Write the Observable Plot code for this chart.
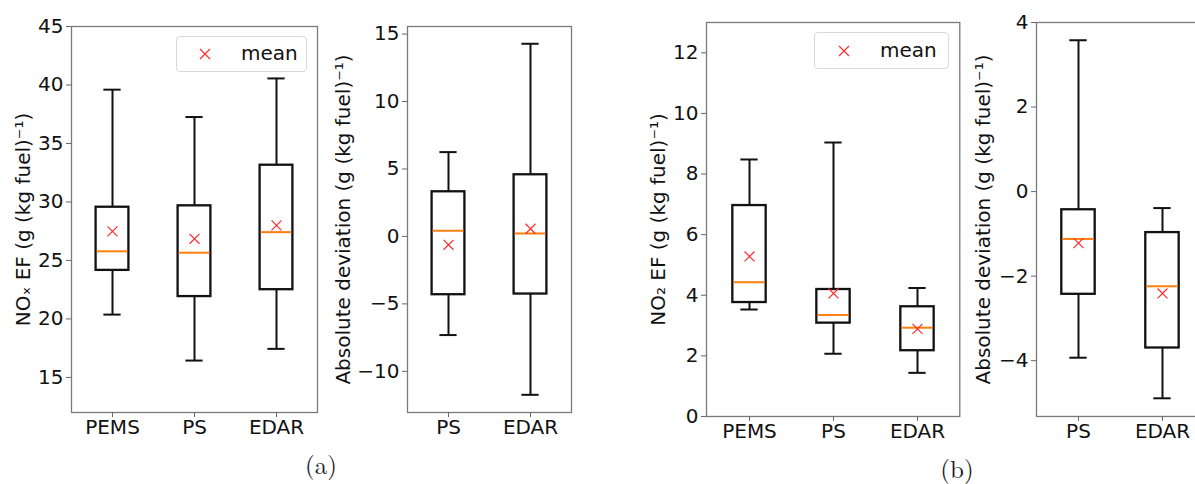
<!DOCTYPE html>
<html><head><meta charset="utf-8">
<script src="https://cdn.jsdelivr.net/npm/d3@7"></script>
<script src="https://cdn.jsdelivr.net/npm/@observablehq/plot@0.6"></script>
<style>
html,body{margin:0;padding:0;background:#fff;overflow:hidden;}
#root{position:relative;width:1195px;height:484px;overflow:hidden;font-family:"DejaVu Sans",sans-serif;background:#fff;}
.panel{position:absolute;top:0;}
.legend{position:absolute;box-sizing:border-box;border:1px solid #d8d8d8;border-radius:4px;background:#fff;font-family:"DejaVu Sans",sans-serif;font-size:20px;color:#111;}
.legend svg{position:absolute;}
.legend span{position:absolute;line-height:20px;}
.cap{position:absolute;font-family:"Latin Modern Roman","DejaVu Serif","Liberation Serif",serif;font-size:25px;color:#1b1b2a;transform:translate(-50%,-50%);white-space:nowrap;line-height:1;}
</style></head><body><div id="root"></div>
<script>
// ---- data ----
const noxCats = ["PEMS", "PS", "EDAR"];
const noxLow  = [20.37, 16.44, 17.44];
const noxQ1   = [24.15, 21.91, 22.50];
const noxMed  = [25.78, 25.66, 27.42];
const noxQ3   = [29.55, 29.67, 33.14];
const noxHigh = [39.60, 37.26, 40.56];
const noxMean = [27.48, 26.85, 28.00];
const noxTicks = [15, 20, 25, 30, 35, 40, 45];

const noxDevCats = ["PS", "EDAR"];
const noxDevLow  = [-7.31, -11.74];
const noxDevQ1   = [-4.32, -4.27];
const noxDevMed  = [0.42, 0.22];
const noxDevQ3   = [3.31, 4.57];
const noxDevHigh = [6.25, 14.28];
const noxDevMean = [-0.62, 0.57];
const noxDevTicks = [-10, -5, 0, 5, 10, 15];

const no2Cats = ["PEMS", "PS", "EDAR"];
const no2Low  = [3.53, 2.07, 1.44];
const no2Q1   = [3.76, 3.08, 2.17];
const no2Med  = [4.43, 3.35, 2.93];
const no2Q3   = [6.96, 4.19, 3.62];
const no2High = [8.48, 9.04, 4.24];
const no2Mean = [5.28, 4.06, 2.89];
const no2Ticks = [0, 2, 4, 6, 8, 10, 12];

const no2DevCats = ["PS", "EDAR"];
const no2DevLow  = [-3.93, -4.89];
const no2DevQ1   = [-2.43, -3.70];
const no2DevMed  = [-1.12, -2.24];
const no2DevQ3   = [-0.43, -0.97];
const no2DevHigh = [3.58, -0.39];
const no2DevMean = [-1.22, -2.41];
const no2DevTicks = [-4, -2, 0, 2, 4];

const labels = {
  nox: "NOₓ EF (g (kg fuel)⁻¹)",
  dev: "Absolute deviation (g (kg fuel)⁻¹)",
  no2: "NO₂ EF (g (kg fuel)⁻¹)"
};
const legendText = "mean";
const captions = ["(a)", "(b)"];

// ---- drawing ----
const FS = 20;
const minus = d => d < 0 ? "\u2212" + Math.abs(d) : String(d);

function boxPanel(o) {
  const rows = o.cats.map((c, i) => ({
    c, lo: o.lo[i], q1: o.q1[i], med: o.med[i], q3: o.q3[i], hi: o.hi[i], mean: o.mean[i]
  }));
  const frameW = o.width - o.mL - o.mR;
  const bw = frameW / o.cats.length;
  const boxInset = bw * (1 - 0.4) / 2;
  const capInset = bw * (1 - 0.21) / 2;
  return Plot.plot({
    width: o.width, height: o.height,
    marginLeft: o.mL, marginRight: o.mR, marginTop: o.mT, marginBottom: o.mB,
    style: {fontFamily: "DejaVu Sans", fontSize: FS + "px", color: "#111", background: "transparent", overflow: "visible"},
    x: {type: "band", domain: o.cats, padding: 0},
    y: {domain: o.domain},
    marks: [
      Plot.frame({stroke: "#7a7a7a", strokeWidth: 1.3}),
      Plot.ruleX(rows, {x: "c", y1: "lo", y2: "q1", stroke: "#111", strokeWidth: 2}),
      Plot.ruleX(rows, {x: "c", y1: "q3", y2: "hi", stroke: "#111", strokeWidth: 2}),
      Plot.tickY(rows, {x: "c", y: "lo", stroke: "#111", strokeWidth: 2, inset: capInset}),
      Plot.tickY(rows, {x: "c", y: "hi", stroke: "#111", strokeWidth: 2, inset: capInset}),
      Plot.barY(rows, {x: "c", y1: "q1", y2: "q3", fill: "white", stroke: "#111", strokeWidth: 2.3, insetLeft: boxInset, insetRight: boxInset}),
      Plot.tickY(rows, {x: "c", y: "med", stroke: "#ff7f0e", strokeWidth: 2, inset: boxInset + 1}),
      Plot.dot(rows, {x: "c", y: "mean", symbol: "times", r: 4.6, stroke: "#ff2b2b", strokeWidth: 1.2}),
      Plot.axisY({ticks: o.ticks, tickFormat: minus, tickSize: 5, tickPadding: 3, stroke: "#666", fill: "#111", label: null, fontSize: FS}),
      Plot.axisX({tickSize: 5, tickPadding: 2, stroke: "#666", fill: "#111", label: null, fontSize: FS}),
      Plot.text([o.label], {frameAnchor: "left", rotate: -90, dx: o.labelDx, fontSize: FS, fill: "#111", textAnchor: "middle", lineAnchor: "middle"})
    ]
  });
}

const root = document.getElementById("root");
function place(el, left) {
  el.classList.add("panel");
  el.style.left = left + "px";
  root.appendChild(el);
}

place(boxPanel({cats: noxCats, lo: noxLow, q1: noxQ1, med: noxMed, q3: noxQ3, hi: noxHigh, mean: noxMean,
  domain: [12, 45], ticks: noxTicks, label: labels.nox, labelDx: -48,
  width: 321, height: 450, mL: 71, mR: 4, mT: 26, mB: 38}), 0);

place(boxPanel({cats: noxDevCats, lo: noxDevLow, q1: noxDevQ1, med: noxDevMed, q3: noxDevQ3, hi: noxDevHigh, mean: noxDevMean,
  domain: [-13.05, 15.56], ticks: noxDevTicks, label: labels.dev, labelDx: -64,
  width: 245, height: 450, mL: 77, mR: 4, mT: 26, mB: 38}), 330);

place(boxPanel({cats: no2Cats, lo: no2Low, q1: no2Q1, med: no2Med, q3: no2Q3, hi: no2High, mean: no2Mean,
  domain: [0, 13], ticks: no2Ticks, label: labels.no2, labelDx: -48,
  width: 343.3, height: 455, mL: 86, mR: 4, mT: 22, mB: 39}), 620);

place(boxPanel({cats: no2DevCats, lo: no2DevLow, q1: no2DevQ1, med: no2DevMed, q3: no2DevQ3, hi: no2DevHigh, mean: no2DevMean,
  domain: [-5.32, 4.0], ticks: no2DevTicks, label: labels.dev, labelDx: -53,
  width: 258.7, height: 455, mL: 86, mR: 4, mT: 22, mB: 39}), 950);

function legend(left, top, w, h, mx) {
  const d = document.createElement("div");
  d.className = "legend";
  Object.assign(d.style, {left: left + "px", top: top + "px", width: w + "px", height: h + "px"});
  d.innerHTML = `<svg width="14" height="14" style="left:${mx - 7}px;top:${h / 2 - 8}px"><path d="M2,2L12,12M2,12L12,2" stroke="#ff2b2b" stroke-width="1.2"/></svg><span style="left:${mx + 36}px;top:${h / 2 - 12}px">${legendText}</span>`;
  root.appendChild(d);
}
legend(176, 36, 131, 36, 28);
legend(814, 32, 135, 37, 29);

function caption(text, x, y) {
  const c = document.createElement("div");
  c.className = "cap";
  c.textContent = text;
  c.style.left = x + "px";
  c.style.top = y + "px";
  root.appendChild(c);
}
caption(captions[0], 321, 463);
caption(captions[1], 957, 467);
</script>
</body></html>
